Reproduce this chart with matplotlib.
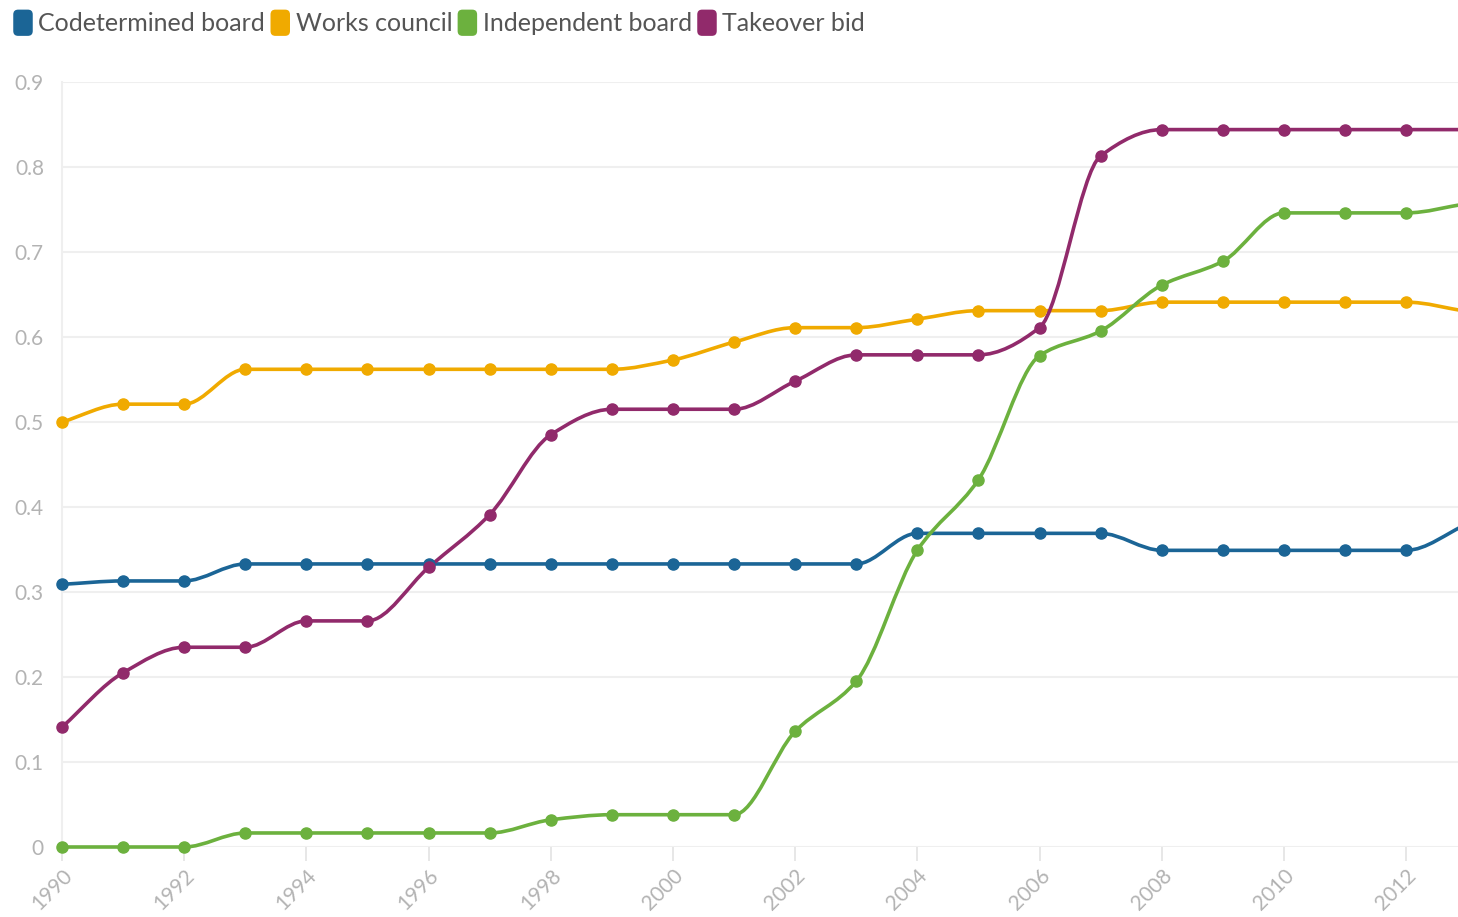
import matplotlib
matplotlib.use("Agg")
import matplotlib.pyplot as plt
import numpy as np
from matplotlib.path import Path
from matplotlib.patches import PathPatch, Patch, FancyBboxPatch
from matplotlib.legend_handler import HandlerPatch

years = list(range(1990, 2014))

codetermined = [0.309, 0.313, 0.313, 0.333, 0.333, 0.333, 0.333, 0.333, 0.333, 0.333,
                0.333, 0.333, 0.333, 0.333, 0.369, 0.369, 0.369, 0.369, 0.349, 0.349,
                0.349, 0.349, 0.349, 0.380]
works_council = [0.500, 0.521, 0.521, 0.562, 0.562, 0.562, 0.562, 0.562, 0.562, 0.562,
                 0.573, 0.594, 0.611, 0.611, 0.621, 0.631, 0.631, 0.631, 0.641, 0.641,
                 0.641, 0.641, 0.641, 0.630]
independent = [0.0, 0.0, 0.0, 0.0165, 0.0165, 0.0165, 0.0165, 0.0165, 0.032, 0.038,
               0.038, 0.038, 0.136, 0.195, 0.349, 0.432, 0.578, 0.607, 0.661, 0.689,
               0.746, 0.746, 0.746, 0.757]
takeover = [0.141, 0.205, 0.235, 0.235, 0.266, 0.266, 0.329, 0.391, 0.485, 0.515,
            0.515, 0.515, 0.548, 0.579, 0.579, 0.579, 0.611, 0.813, 0.844, 0.844,
            0.844, 0.844, 0.844, 0.844]

series_names = ["Codetermined board", "Works council", "Independent board", "Takeover bid"]
series_values = [codetermined, works_council, independent, takeover]
colors = ["#1b6596", "#f0aa00", "#6cb13e", "#912a6b"]


def monotone_path(x, y):
    # monotone cubic (Fritsch-Carlson) drawn as bezier segments
    x = np.asarray(x, float)
    y = np.asarray(y, float)
    h = np.diff(x)
    d = np.diff(y) / h
    m = np.zeros_like(y)
    m[0], m[-1] = d[0], d[-1]
    for i in range(1, len(y) - 1):
        if d[i - 1] * d[i] <= 0:
            m[i] = 0.0
        else:
            m[i] = 2.0 / (1.0 / d[i - 1] + 1.0 / d[i])
    verts = [(x[0], y[0])]
    codes = [Path.MOVETO]
    for i in range(len(h)):
        verts += [(x[i] + h[i] / 3, y[i] + m[i] * h[i] / 3),
                  (x[i + 1] - h[i] / 3, y[i + 1] - m[i + 1] * h[i] / 3),
                  (x[i + 1], y[i + 1])]
        codes += [Path.CURVE4] * 3
    return Path(verts, codes)


class RoundBox(HandlerPatch):
    # tall rounded swatch, like the original legend
    def create_artists(self, legend, orig_handle, xdescent, ydescent, width, height,
                       fontsize, trans):
        w, h = 0.78 * fontsize, 1.05 * fontsize
        x0 = -xdescent + (width - w) / 2
        y0 = -ydescent + (height - h) / 2
        p = FancyBboxPatch((x0, y0), w, h,
                           boxstyle="round,pad=0,rounding_size=3.5",
                           facecolor=orig_handle.get_facecolor(), edgecolor="none",
                           transform=trans)
        return [p]


plt.rcParams["font.family"] = ["Lato", "DejaVu Sans"]

fig = plt.figure(figsize=(14.58, 9.17), dpi=100)
ax = fig.add_axes([62 / 1458, 1 - 847 / 917, 1 - 62 / 1458, (847 - 82) / 917])

for name, vals, col in zip(series_names, series_values, colors):
    ax.add_patch(PathPatch(monotone_path(years, vals), facecolor="none", edgecolor=col,
                           lw=2.6, clip_on=False, zorder=3))
    ax.plot(years, vals, linestyle="none", marker="o", markersize=8, color=col,
            clip_on=False, zorder=4)

ax.set_xlim(1990, 2012.85)
ax.set_ylim(0, 0.9)
ax.set_yticks(np.arange(0, 0.91, 0.1))
ax.set_yticklabels(["0"] + [f"{v:.1f}" for v in np.arange(0.1, 0.91, 0.1)])
ax.set_xticks(range(1990, 2013, 2))
ax.set_xticklabels([str(y) for y in range(1990, 2013, 2)], rotation=45, ha="right",
                   va="top", rotation_mode="anchor")

ax.grid(axis="y", color="#efefef", lw=1.5)
ax.set_axisbelow(True)
for s in ["top", "right", "bottom"]:
    ax.spines[s].set_visible(False)
ax.spines["left"].set_color("#efefef")
ax.spines["left"].set_linewidth(1.5)
ax.tick_params(axis="y", length=0, pad=13, labelsize=15, labelcolor="#b3b3b3")
ax.tick_params(axis="x", length=10, width=1.2, color="#e3e3e3", pad=3, labelsize=15,
               labelcolor="#b3b3b3")

handles = [Patch(facecolor=c, label=n) for n, c in zip(series_names, colors)]
fig.legend(handles=handles, loc="center left", bbox_to_anchor=(13 / 1458, 1 - 23 / 917),
           ncol=4, frameon=False, fontsize=18, handlelength=0.8, handleheight=1.1,
           handletextpad=0.22, columnspacing=0.2, labelcolor="#555555",
           borderaxespad=0, borderpad=0, handler_map={Patch: RoundBox()})

fig.savefig("out.png", dpi=100)
